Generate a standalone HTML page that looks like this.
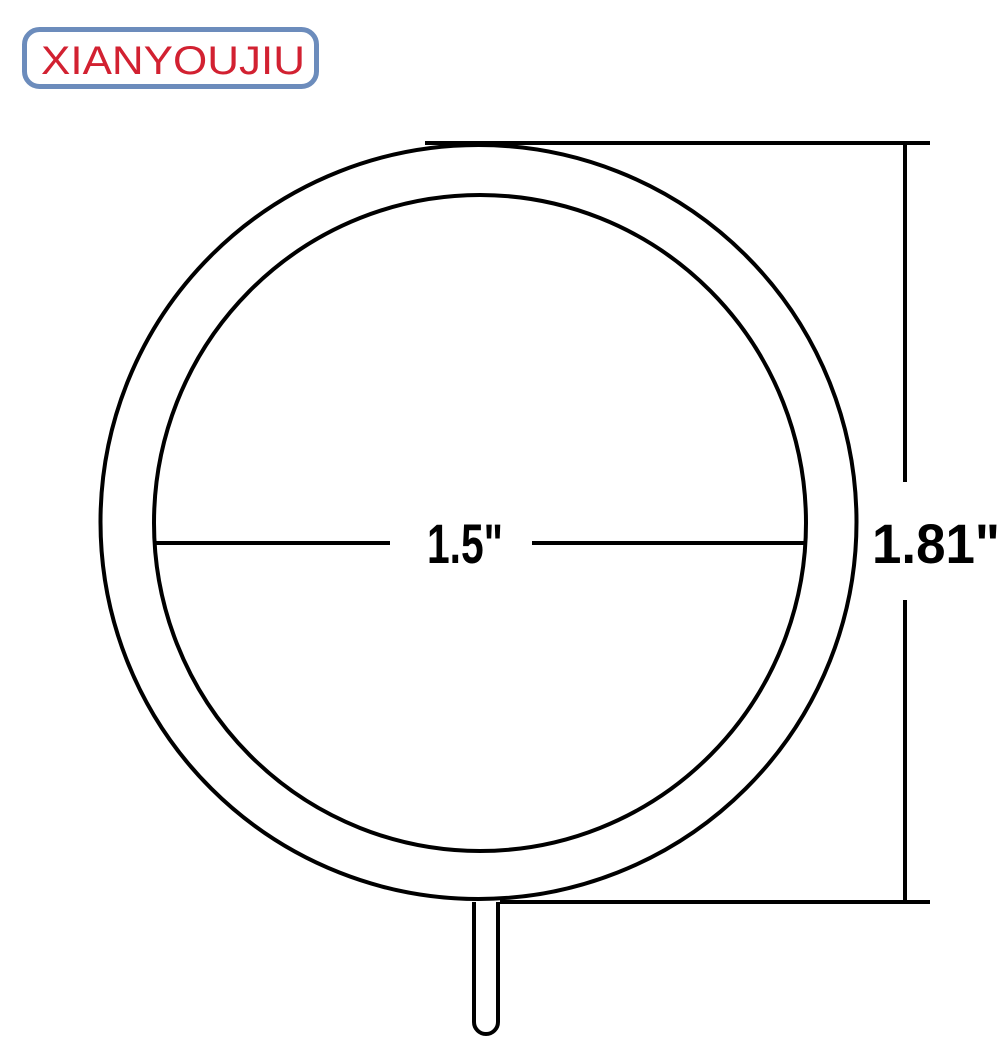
<!DOCTYPE html>
<html><head><meta charset="utf-8"><style>
html,body{margin:0;padding:0;background:#fff;}
svg{display:block;}
</style></head><body>
<svg width="1006" height="1050" viewBox="0 0 1006 1050" xmlns="http://www.w3.org/2000/svg">
  <rect x="0" y="0" width="1006" height="1050" fill="#fff"/>
  <g>
    <rect x="24.5" y="29.5" width="292" height="57" rx="15" fill="#fff" stroke="#6c8cbc" stroke-width="5"/>
    <text x="173" y="74" text-anchor="middle" font-family="Liberation Sans, sans-serif" font-size="40" fill="#d22131" textLength="264" lengthAdjust="spacingAndGlyphs">XIANYOUJIU</text>
  </g>
  <ellipse cx="478.5" cy="522" rx="378" ry="377" fill="none" stroke="#000" stroke-width="4"/>
  <ellipse cx="480" cy="523" rx="326" ry="328" fill="none" stroke="#000" stroke-width="4"/>
  <line x1="154" y1="543" x2="390" y2="543" stroke="#000" stroke-width="4"/>
  <line x1="532" y1="543" x2="806" y2="543" stroke="#000" stroke-width="4"/>
  <text x="465" y="563" text-anchor="middle" font-family="Liberation Sans, sans-serif" font-weight="bold" font-size="56" textLength="76" lengthAdjust="spacingAndGlyphs">1.5"</text>
  <line x1="425" y1="143" x2="930" y2="143" stroke="#000" stroke-width="4"/>
  <line x1="500" y1="902" x2="930" y2="902" stroke="#000" stroke-width="4"/>
  <line x1="905" y1="143" x2="905" y2="482" stroke="#000" stroke-width="4"/>
  <line x1="905" y1="600" x2="905" y2="902" stroke="#000" stroke-width="4"/>
  <text x="936" y="563" text-anchor="middle" font-family="Liberation Sans, sans-serif" font-weight="bold" font-size="56" textLength="128" lengthAdjust="spacingAndGlyphs">1.81"</text>
  <path d="M474 902 L474 1022 A12 12 0 0 0 498 1022 L498 902" fill="#fff" stroke="#000" stroke-width="4"/>
</svg>
</body></html>
